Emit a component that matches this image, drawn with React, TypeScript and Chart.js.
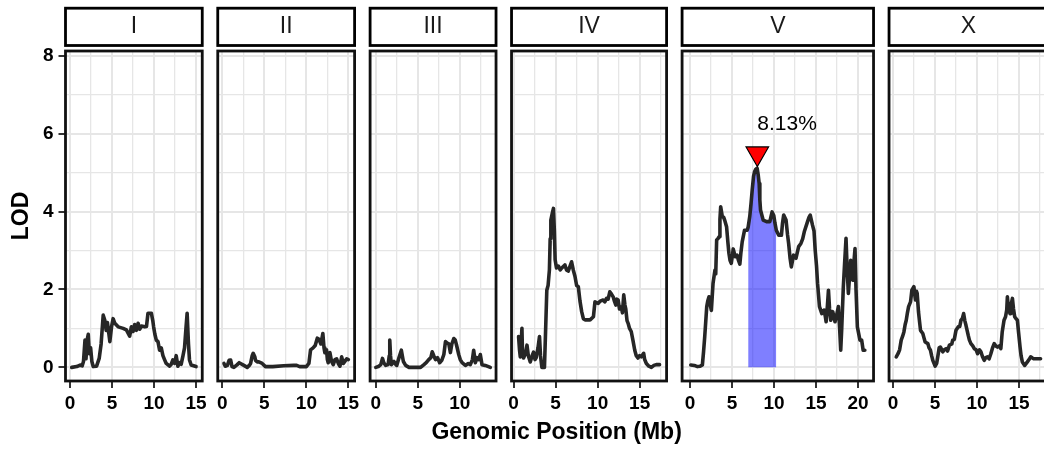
import React, { useEffect, useRef } from 'react';
import { Chart, registerables } from 'chart.js';

Chart.register(...registerables);

// ---------------- data ----------------
const chromosomes = ['I', 'II', 'III', 'IV', 'V', 'X'];

// [position (Mb), LOD]
const scanI: [number, number][] = [
  [0.2, 0.0], [0.8, 0.02], [1.2, 0.06], [1.45, 0.04], [1.6, 0.15], [1.78, 0.7], [1.9, 0.22], [2.05, 0.72],
  [2.17, 0.85], [2.3, 0.35], [2.45, 0.5], [2.6, 0.15], [2.76, 0.02], [3.16, 0.03], [3.47, 0.23], [3.7, 0.6],
  [3.95, 1.34], [4.15, 1.2], [4.3, 0.95], [4.45, 1.15], [4.6, 0.9], [4.74, 0.66], [4.94, 1.04], [5.13, 1.25],
  [5.33, 1.13], [5.73, 1.04], [6.32, 1.0], [6.71, 0.96], [7.1, 0.8], [7.3, 1.04], [7.5, 0.92], [7.7, 1.1],
  [7.9, 0.95], [8.1, 1.13], [8.3, 0.98], [8.5, 1.06], [8.9, 1.04], [9.1, 1.05], [9.28, 1.39], [9.68, 1.39],
  [9.85, 1.2], [9.95, 1.04], [10.1, 0.85], [10.27, 0.7], [10.47, 0.66], [10.66, 0.44], [10.86, 0.5], [11.06, 0.3],
  [11.25, 0.2], [11.45, 0.1], [11.85, 0.03], [12.05, 0.08], [12.24, 0.19], [12.45, 0.1], [12.64, 0.3], [12.84, 0.03],
  [13.03, 0.12], [13.23, 0.08], [13.45, 0.3], [13.63, 0.5], [13.8, 1.0], [13.94, 1.39], [14.1, 0.6], [14.22, 0.19],
  [14.42, 0.06], [15.0, 0.02],
];

const scanII: [number, number][] = [
  [0.19, 0.1], [0.35, 0.03], [0.6, 0.05], [0.8, 0.18], [0.98, 0.19], [1.15, 0.02], [1.37, 0.0], [1.77, 0.07],
  [2.0, 0.12], [2.16, 0.1], [2.56, 0.05], [2.96, 0.0], [3.2, 0.05], [3.36, 0.1], [3.55, 0.3], [3.67, 0.36],
  [3.85, 0.28], [3.95, 0.18], [4.15, 0.14], [4.34, 0.14], [4.74, 0.1], [5.13, 0.02], [6.0, 0.02], [7.3, 0.04],
  [8.5, 0.05], [8.85, 0.05], [9.2, 0.02], [10.0, 0.02], [10.3, 0.1], [10.5, 0.45], [10.8, 0.5], [11.05, 0.56],
  [11.3, 0.75], [11.5, 0.72], [11.73, 0.6], [11.96, 0.87], [12.1, 0.5], [12.2, 0.38], [12.4, 0.45], [12.5, 0.2],
  [12.6, 0.12], [12.8, 0.38], [13.0, 0.15], [13.2, 0.07], [13.4, 0.2], [13.6, 0.22], [13.8, 0.1], [14.0, 0.03],
  [14.2, 0.27], [14.4, 0.1], [14.6, 0.16], [14.8, 0.22], [15.0, 0.2],
];

const scanIII: [number, number][] = [
  [0.0, 0.0], [0.3, 0.02], [0.59, 0.07], [0.79, 0.23], [0.95, 0.12], [1.18, 0.05], [1.46, 0.07], [1.6, 0.3],
  [1.66, 0.7], [1.75, 0.3], [1.86, 0.07], [2.17, 0.15], [2.35, 0.08], [2.49, 0.05], [2.76, 0.25], [3.04, 0.44],
  [3.15, 0.3], [3.28, 0.15], [3.55, 0.05], [3.95, 0.0], [5.33, 0.0], [5.73, 0.07], [6.0, 0.12], [6.3, 0.2],
  [6.55, 0.25], [6.72, 0.4], [6.9, 0.3], [7.1, 0.2], [7.35, 0.25], [7.6, 0.12], [7.85, 0.18], [8.1, 0.33],
  [8.29, 0.66], [8.5, 0.62], [8.69, 0.6], [8.88, 0.38], [9.05, 0.6], [9.28, 0.74], [9.45, 0.7], [9.6, 0.58],
  [9.87, 0.33], [10.05, 0.2], [10.27, 0.12], [10.66, 0.05], [11.0, 0.1], [11.25, 0.07], [11.5, 0.2], [11.65, 0.44],
  [11.85, 0.12], [12.05, 0.25], [12.24, 0.2], [12.44, 0.33], [12.64, 0.07], [13.03, 0.05], [13.63, 0.0],
];

const scanIV: [number, number][] = [
  [0.59, 0.79], [0.7, 0.45], [0.79, 0.27], [0.99, 1.0], [1.05, 0.4], [1.18, 0.24], [1.4, 0.35], [1.59, 0.57],
  [1.75, 0.3], [1.98, 0.14], [2.2, 0.3], [2.37, 0.39], [2.55, 0.2], [2.69, 0.25], [2.9, 0.5], [3.08, 0.79],
  [3.2, 0.3], [3.36, 0.0], [3.67, 0.0], [3.8, 0.9], [3.95, 1.98], [4.1, 2.1], [4.26, 2.5], [4.35, 3.3],
  [4.43, 3.78], [4.6, 3.95], [4.74, 4.08], [4.85, 3.5], [4.94, 2.76], [5.1, 2.55], [5.33, 2.6], [5.55, 2.5],
  [5.73, 2.55], [6.1, 2.63], [6.3, 2.5], [6.5, 2.47], [6.9, 2.71], [7.1, 2.5], [7.3, 2.34], [7.5, 2.1],
  [7.7, 2.07], [7.9, 1.7], [8.1, 1.43], [8.3, 1.25], [8.5, 1.22], [9.1, 1.22], [9.5, 1.3], [9.68, 1.68],
  [10.07, 1.64], [10.3, 1.7], [10.66, 1.73], [10.85, 1.68], [11.06, 1.77], [11.25, 1.75], [11.45, 1.94], [11.65, 1.88],
  [11.85, 1.81], [12.0, 1.7], [12.16, 1.6], [12.3, 1.75], [12.44, 1.73], [12.6, 1.5], [12.83, 1.55], [12.95, 1.4],
  [13.11, 1.86], [13.25, 1.6], [13.35, 1.5], [13.5, 1.2], [13.63, 1.13], [13.8, 1.0], [14.0, 0.92], [14.2, 0.7],
  [14.42, 0.44], [14.6, 0.3], [14.8, 0.24], [15.0, 0.3], [15.2, 0.27], [15.48, 0.36], [15.6, 0.2], [15.8, 0.1],
  [16.1, 0.03], [16.4, 0.0], [16.7, 0.05], [16.98, 0.07], [17.37, 0.07],
];

const scanV: [number, number][] = [
  [0.08, 0.06], [0.5, 0.05], [0.87, 0.02], [1.2, 0.03], [1.46, 0.06], [1.6, 0.4], [1.74, 0.79], [1.98, 1.56],
  [2.1, 1.7], [2.25, 1.81], [2.4, 1.6], [2.53, 1.46], [2.73, 2.16], [2.96, 2.5], [3.05, 2.4], [3.16, 3.27],
  [3.3, 3.3], [3.44, 3.35], [3.55, 3.8], [3.64, 4.12], [3.83, 3.87], [4.0, 3.85], [4.11, 3.78], [4.34, 3.61],
  [4.5, 3.2], [4.62, 2.93], [4.75, 2.75], [4.9, 2.67], [5.05, 2.9], [5.13, 3.04], [5.3, 2.9], [5.41, 2.84],
  [5.6, 2.88], [5.75, 2.75], [5.92, 2.65], [6.05, 2.95], [6.2, 3.22], [6.48, 3.52], [6.79, 3.52], [6.91, 3.6],
  [7.1, 3.87], [7.25, 4.2], [7.39, 4.55], [7.55, 4.9], [7.67, 5.02], [7.8, 5.08], [7.98, 5.11], [8.1, 4.95],
  [8.22, 4.72], [8.3, 4.3], [8.38, 4.04], [8.7, 3.78], [9.1, 3.74], [9.49, 3.74], [9.76, 3.99], [9.96, 3.9],
  [10.1, 3.7], [10.26, 3.52], [10.55, 3.39], [10.87, 3.39], [11.0, 3.7], [11.14, 3.91], [11.42, 3.78], [11.6, 3.4],
  [11.73, 3.18], [11.9, 2.8], [12.05, 2.58], [12.2, 2.75], [12.32, 2.88], [12.6, 2.8], [12.92, 3.1], [13.19, 3.18],
  [13.4, 3.3], [13.59, 3.48], [13.98, 3.74], [14.15, 3.85], [14.3, 3.91], [14.57, 3.65], [14.75, 3.5], [14.89, 3.01],
  [15.05, 2.6], [15.17, 2.16], [15.4, 1.56], [15.68, 1.38], [15.95, 1.47], [16.1, 1.3], [16.19, 1.17], [16.35, 1.6],
  [16.47, 1.98], [16.6, 1.5], [16.74, 1.21], [16.98, 1.43], [17.25, 1.17], [17.45, 1.35], [17.65, 1.56], [17.8, 1.0],
  [17.93, 0.44], [18.05, 1.0], [18.24, 2.07], [18.4, 2.7], [18.56, 3.31], [18.7, 2.5], [18.84, 1.9], [19.0, 2.4],
  [19.12, 2.75], [19.36, 2.24], [19.5, 2.7], [19.63, 3.05], [19.75, 2.0], [19.91, 1.04], [20.22, 0.7], [20.42, 0.7],
  [20.6, 0.44], [20.8, 0.44],
];

const scanX: [number, number][] = [
  [0.39, 0.27], [0.6, 0.35], [0.79, 0.45], [0.98, 0.7], [1.15, 0.8], [1.3, 0.91], [1.45, 1.1], [1.58, 1.21],
  [1.72, 1.4], [1.86, 1.56], [2.09, 1.68], [2.25, 1.98], [2.49, 2.07], [2.6, 1.85], [2.68, 1.73], [2.8, 1.95],
  [2.88, 1.9], [3.04, 1.42], [3.15, 1.2], [3.28, 0.95], [3.55, 0.87], [3.7, 0.75], [3.83, 0.65], [4.15, 0.61],
  [4.3, 0.5], [4.46, 0.44], [4.6, 0.3], [4.74, 0.18], [5.02, 0.03], [5.2, 0.1], [5.33, 0.27], [5.5, 0.5],
  [5.65, 0.52], [5.92, 0.4], [6.1, 0.45], [6.32, 0.48], [6.5, 0.42], [6.72, 0.57], [7.0, 0.6], [7.11, 0.7],
  [7.3, 0.72], [7.5, 0.95], [7.78, 1.04], [7.95, 1.05], [8.1, 1.21], [8.25, 1.25], [8.41, 1.38], [8.55, 1.2],
  [8.69, 1.08], [8.96, 0.82], [9.1, 0.7], [9.28, 0.61], [9.5, 0.55], [9.68, 0.48], [9.9, 0.45], [10.07, 0.35],
  [10.3, 0.45], [10.47, 0.4], [10.65, 0.28], [10.86, 0.18], [11.05, 0.25], [11.25, 0.27], [11.45, 0.22], [11.65, 0.35],
  [11.85, 0.5], [12.05, 0.61], [12.25, 0.55], [12.44, 0.52], [12.65, 0.55], [12.84, 0.48], [13.0, 0.9], [13.22, 1.21],
  [13.4, 1.3], [13.54, 1.47], [13.62, 1.81], [13.75, 1.5], [13.94, 1.38], [14.05, 1.6], [14.22, 1.77], [14.35, 1.5],
  [14.49, 1.3], [14.65, 1.25], [14.81, 1.21], [14.95, 0.9], [15.13, 0.52], [15.25, 0.3], [15.4, 0.14], [15.68, 0.05],
  [16.0, 0.14], [16.2, 0.2], [16.39, 0.27], [16.6, 0.24], [16.78, 0.22], [17.2, 0.22], [17.57, 0.22],
];

const scans = [scanI, scanII, scanIII, scanIV, scanV, scanX];

// QTL peak annotation
const peakChromosome = 'V';
const peakPositionMb = 8.0;
const peakMarkerLOD = 5.49;
const peakLabel = '8.13%';
const peakLabelLOD = 6.25;
const intervalLeftMb = 6.91;
const intervalRightMb = 10.26;

// axis ticks
const yTickValues = [0, 1, 2, 3, 4, 5, 6, 7, 8];
const yMajorEvery = 2;
const xTickStep = 2.5;
const xMajorEvery = 5;
const xAxisTitle = 'Genomic Position (Mb)';
const yAxisTitle = 'LOD';

// ---------------- layout / style ----------------
const FONT = '"Liberation Sans", Arial, Helvetica, sans-serif';
const CANVAS_W = 1060;
const CANVAS_H = 450;
const FIRST_LEFT = 65.5;
const GAP = 15.5;
const PX_PER_MB = 8.4;
const PANEL_TOP = 51;
const PANEL_BOTTOM = 381;
const X_AXIS_H = 40;
const Y_MIN = -0.35;
const Y_MAX = 8.12;
const BORDER_W = 2.8;

const extents = scans.map((s) => {
  const xs = s.map((p) => p[0]);
  const lo = Math.min(...xs);
  const hi = Math.max(...xs);
  const pad = (hi - lo) * 0.05;
  return [lo - pad, hi + pad];
});
const lefts: number[] = [];
{
  let cur = FIRST_LEFT;
  extents.forEach(([a, b]) => {
    lefts.push(cur);
    cur += (b - a) * PX_PER_MB + GAP;
  });
}

const isMajor = (v: number, every: number) => Math.abs(v / every - Math.round(v / every)) < 1e-6;

const framePlugin = {
  id: 'facetFrame',
  beforeDraw(chart: any) {
    const { ctx, chartArea: a } = chart;
    ctx.save();
    const top = a.top - 42.8;
    const bottom = a.top - 5.5;
    ctx.fillStyle = '#ffffff';
    ctx.fillRect(a.left, top, a.right - a.left, bottom - top);
    ctx.strokeStyle = '#000000';
    ctx.lineWidth = BORDER_W;
    ctx.strokeRect(a.left, top, a.right - a.left, bottom - top);
    ctx.restore();
  },
  afterDraw(chart: any) {
    const { ctx, chartArea: a } = chart;
    ctx.save();
    ctx.strokeStyle = '#111111';
    ctx.lineWidth = BORDER_W;
    ctx.strokeRect(a.left, a.top, a.right - a.left, a.bottom - a.top);
    ctx.restore();
  },
};

const peakLabelPlugin = {
  id: 'peakLabel',
  afterDatasetsDraw(chart: any) {
    const { ctx, scales } = chart;
    const x = scales.x.getPixelForValue(peakPositionMb);
    const y = scales.y.getPixelForValue(peakLabelLOD);
    ctx.save();
    ctx.font = `21px ${FONT}`;
    ctx.fillStyle = '#000000';
    ctx.textAlign = 'left';
    ctx.textBaseline = 'middle';
    ctx.fillText(peakLabel, x, y);
    ctx.restore();
  },
};

function buildConfig(i: number): any {
  const chrom = chromosomes[i];
  const scan = scans[i];
  const [xmin, xmax] = extents[i];
  const left = lefts[i];
  const right = left + (xmax - xmin) * PX_PER_MB;
  const isFirst = i === 0;
  const isPeak = chrom === peakChromosome;

  const xTicks: number[] = [];
  for (let v = Math.ceil(xmin / xTickStep) * xTickStep; v <= xmax + 1e-9; v += xTickStep) xTicks.push(v);

  const datasets: any[] = [
    {
      type: 'line',
      data: scan.map(([x, y]) => ({ x, y })),
      borderColor: '#262626',
      borderWidth: 3.6,
      borderJoinStyle: 'round',
      borderCapStyle: 'round',
      pointRadius: 0,
      tension: 0,
      fill: false,
      order: 1,
    },
  ];
  if (isPeak) {
    datasets.push({
      type: 'line',
      data: scan.filter(([x]) => x >= intervalLeftMb && x <= intervalRightMb).map(([x, y]) => ({ x, y })),
      borderColor: 'rgba(0,0,0,0)',
      borderWidth: 0,
      pointRadius: 0,
      backgroundColor: 'rgba(0,0,255,0.5)',
      fill: 'origin',
      tension: 0,
      order: 2,
    });
    datasets.push({
      type: 'scatter',
      data: [{ x: peakPositionMb, y: peakMarkerLOD }],
      pointStyle: 'triangle',
      pointRotation: 180,
      pointRadius: 13,
      pointBackgroundColor: '#ff0000',
      pointBorderColor: '#000000',
      pointBorderWidth: 1.2,
      order: 0,
    });
  }

  return {
    type: 'line',
    data: { datasets },
    plugins: isPeak ? [framePlugin, peakLabelPlugin] : [framePlugin],
    options: {
      animation: false,
      responsive: false,
      devicePixelRatio: 1,
      events: [],
      layout: {
        padding: {
          left: isFirst ? left - FIRST_LEFT : left,
          right: CANVAS_W - right,
          top: 0,
          bottom: CANVAS_H - PANEL_BOTTOM - X_AXIS_H,
        },
      },
      plugins: {
        legend: { display: false },
        tooltip: { enabled: false },
        title: {
          display: true,
          text: chrom,
          fullSize: false,
          color: '#1a1a1a',
          font: { family: FONT, size: 23, weight: 'normal', lineHeight: 1.2 },
          padding: { top: 13.3, bottom: PANEL_TOP - 13.3 - 27.6 },
        },
      },
      scales: {
        x: {
          type: 'linear',
          min: xmin,
          max: xmax,
          afterBuildTicks: (s: any) => {
            s.ticks = xTicks.map((v) => ({ value: v }));
          },
          afterFit: (s: any) => {
            s.height = X_AXIS_H;
          },
          border: { display: false },
          grid: {
            color: '#e6e6e6',
            lineWidth: (c: any) => (c.tick && isMajor(c.tick.value, xMajorEvery) ? 2 : 1.3),
            drawTicks: true,
            tickLength: 7,
            tickWidth: 2,
            tickColor: (c: any) => (c.tick && isMajor(c.tick.value, xMajorEvery) ? '#333333' : 'rgba(0,0,0,0)'),
          },
          ticks: {
            autoSkip: false,
            maxRotation: 0,
            minRotation: 0,
            padding: 4,
            color: '#000000',
            font: { family: FONT, size: 19, weight: 'bold' },
            callback: (v: any) => (isMajor(Number(v), xMajorEvery) ? String(Number(v)) : ''),
          },
        },
        y: {
          type: 'linear',
          min: Y_MIN,
          max: Y_MAX,
          afterBuildTicks: (s: any) => {
            s.ticks = yTickValues.map((v) => ({ value: v }));
          },
          afterFit: (s: any) => {
            s.width = isFirst ? FIRST_LEFT : 0;
          },
          border: { display: false },
          grid: {
            color: '#e6e6e6',
            lineWidth: (c: any) => (c.tick && isMajor(c.tick.value, yMajorEvery) ? 2 : 1.3),
            drawTicks: isFirst,
            tickLength: 7,
            tickWidth: 2,
            tickColor: (c: any) => (c.tick && isMajor(c.tick.value, yMajorEvery) ? '#333333' : 'rgba(0,0,0,0)'),
          },
          ticks: {
            display: isFirst,
            autoSkip: false,
            padding: 5,
            color: '#000000',
            font: { family: FONT, size: 19, weight: 'bold' },
            callback: (v: any) => (isMajor(Number(v), yMajorEvery) ? String(Number(v)) : ''),
          },
          title: {
            display: isFirst,
            text: yAxisTitle,
            color: '#000000',
            font: { family: FONT, size: 23, weight: 'bold', lineHeight: 1.2 },
            padding: { top: 8.2, bottom: 0 },
          },
        },
      },
    },
  };
}

export default function App() {
  const refs = useRef<(HTMLCanvasElement | null)[]>([]);

  useEffect(() => {
    const charts = chromosomes.map((_, i) => {
      const cv = refs.current[i];
      return cv ? new Chart(cv, buildConfig(i)) : null;
    });
    return () => {
      charts.forEach((c) => c && c.destroy());
    };
  }, []);

  const lastIdx = extents.length - 1;
  const xTitleCenter = (FIRST_LEFT + lefts[lastIdx] + (extents[lastIdx][1] - extents[lastIdx][0]) * PX_PER_MB) / 2;

  return (
    <div
      style={{
        position: 'absolute',
        left: 0,
        top: 0,
        width: 1044,
        height: 450,
        overflow: 'hidden',
        background: '#ffffff',
      }}
    >
      {chromosomes.map((c, i) => (
        <canvas
          key={c}
          ref={(el) => {
            refs.current[i] = el;
          }}
          width={CANVAS_W}
          height={CANVAS_H}
          style={{ position: 'absolute', left: 0, top: 0, width: CANVAS_W, height: CANVAS_H, display: 'block' }}
        />
      ))}
      <div
        style={{
          position: 'absolute',
          left: xTitleCenter - 300,
          width: 600,
          top: 417.5,
          textAlign: 'center',
          fontFamily: FONT,
          fontWeight: 'bold',
          fontSize: 23,
          lineHeight: '26px',
          color: '#000000',
          whiteSpace: 'nowrap',
        }}
      >
        {xAxisTitle}
      </div>
    </div>
  );
}
